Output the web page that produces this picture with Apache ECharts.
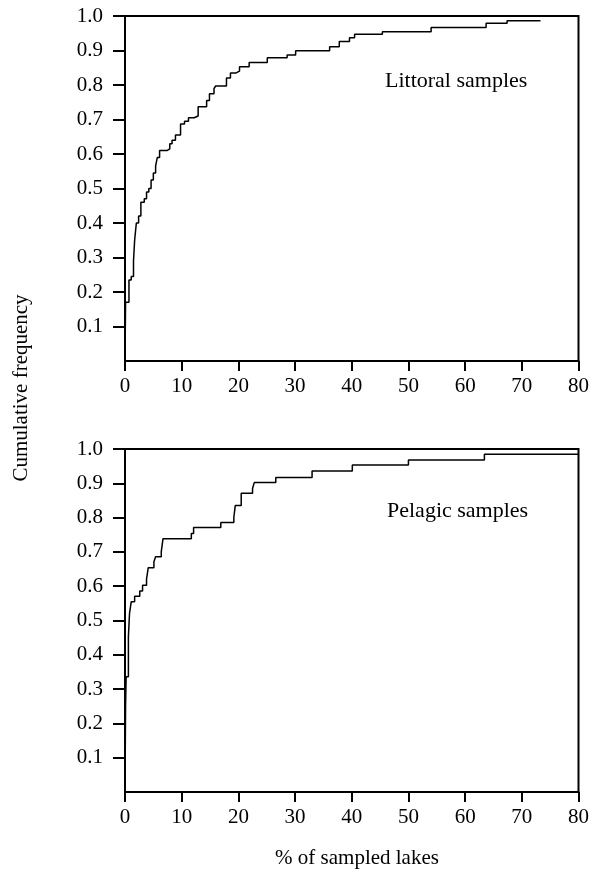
<!DOCTYPE html>
<html>
<head>
<meta charset="utf-8">
<script src="https://cdn.jsdelivr.net/npm/echarts@6/dist/echarts.min.js"></script>
<style>
html,body{margin:0;padding:0;background:#fff;}
#c{width:592px;height:875px;}
</style>
</head>
<body>
<div id="c"></div>
<script>
// Littoral samples: x (% of sampled lakes) where cumulative frequency steps to y
var littoralX = [0, 0.1, 0.7, 1.1, 1.5, 1.7, 2.0, 2.4, 2.8, 3.4, 3.8, 4.2, 4.6, 5.0, 5.4, 5.7, 6.1, 7.4, 7.9, 8.3, 8.9, 9.8, 10.5, 11.2, 12.2, 12.9, 14.4, 14.9, 15.7, 16.0, 17.9, 18.6, 19.6, 20.2, 21.9, 25.1, 28.6, 30.1, 36.1, 37.8, 39.6, 40.5, 45.4, 54.0, 63.7, 67.4, 73.3];
var littoralY = [0, 0.17, 0.235, 0.245, 0.29, 0.35, 0.40, 0.42, 0.46, 0.47, 0.49, 0.50, 0.525, 0.545, 0.565, 0.59, 0.61, 0.615, 0.63, 0.64, 0.655, 0.687, 0.695, 0.705, 0.71, 0.737, 0.755, 0.775, 0.79, 0.797, 0.82, 0.835, 0.84, 0.853, 0.865, 0.879, 0.887, 0.899, 0.911, 0.926, 0.937, 0.947, 0.954, 0.967, 0.979, 0.986, 0.986];
// Pelagic samples
var pelagicX = [0, 0.1, 0.2, 0.6, 0.8, 1.1, 1.7, 2.6, 3.1, 3.8, 4.1, 5.1, 5.4, 6.4, 6.7, 11.7, 12.1, 16.9, 19.2, 19.45, 20.5, 22.5, 22.8, 26.6, 33.0, 40.1, 50.0, 63.4, 80];
var pelagicY = [0, 0.25, 0.336, 0.453, 0.521, 0.555, 0.571, 0.586, 0.603, 0.621, 0.654, 0.671, 0.686, 0.701, 0.738, 0.754, 0.771, 0.786, 0.801, 0.835, 0.871, 0.885, 0.902, 0.917, 0.936, 0.953, 0.968, 0.985, 0.985];
var yTickValues = [0.1, 0.2, 0.3, 0.4, 0.5, 0.6, 0.7, 0.8, 0.9, 1.0];
var panelLabels = ['Littoral samples', 'Pelagic samples'];
var yTitle = 'Cumulative frequency';
var xTitle = '% of sampled lakes';

function zip(xs, ys){ return xs.map(function(x,i){ return [x, ys[i]]; }); }

var FONT = "'Liberation Serif','DejaVu Serif',serif";
var chart = echarts.init(document.getElementById('c'), null, {renderer:'canvas'});

function xAx(gi){
  return {
    gridIndex: gi, type: 'value', min: 0, max: 80, interval: 10,
    axisLine: {show: true, onZero: false, lineStyle: {color: '#000', width: 2}},
    axisTick: {show: true, inside: false, length: 10, lineStyle: {color: '#000', width: 2}},
    axisLabel: {color: '#000', fontSize: 21, fontFamily: FONT, margin: 15},
    splitLine: {show: false}
  };
}
function yAx(gi){
  return {
    gridIndex: gi, type: 'value', min: 0, max: 1, interval: 0.1,
    axisLine: {show: true, onZero: false, lineStyle: {color: '#000', width: 2}},
    axisTick: {show: true, inside: false, length: 12, customValues: yTickValues, lineStyle: {color: '#000', width: 2}},
    axisLabel: {color: '#000', fontSize: 21, fontFamily: FONT, margin: 22, customValues: yTickValues,
      formatter: function(v){ return v.toFixed(1); }},
    splitLine: {show: false}
  };
}

var option = {
  backgroundColor: '#fff',
  animation: false,
  grid: [
    {left: 125, top: 16, width: 460, height: 345, show: true, borderColor: '#000', borderWidth: 2, backgroundColor: 'transparent'},
    {left: 125, top: 449, width: 460, height: 343, show: true, borderColor: '#000', borderWidth: 2, backgroundColor: 'transparent'}
  ],
  xAxis: [xAx(0), xAx(1)],
  yAxis: [yAx(0), yAx(1)],
  series: [
    {type: 'line', xAxisIndex: 0, yAxisIndex: 0, step: 'end', showSymbol: false, symbol: 'none',
     lineStyle: {color: '#000', width: 1.5}, data: zip(littoralX, littoralY)},
    {type: 'line', xAxisIndex: 1, yAxisIndex: 1, step: 'end', showSymbol: false, symbol: 'none',
     lineStyle: {color: '#000', width: 1.5}, data: zip(pelagicX, pelagicY)}
  ],
  graphic: [
    {type: 'text', left: 385, top: 70, style: {text: panelLabels[0], font: '22px ' + FONT, fill: '#000'}},
    {type: 'text', left: 387, top: 500, style: {text: panelLabels[1], font: '22px ' + FONT, fill: '#000'}},
    {type: 'text', x: 21, y: 388, rotation: Math.PI/2,
     style: {text: yTitle, font: '21px ' + FONT, fill: '#000', align: 'center', verticalAlign: 'middle'}},
    {type: 'text', x: 357, y: 858,
     style: {text: xTitle, font: '21px ' + FONT, fill: '#000', align: 'center', verticalAlign: 'middle'}}
  ]
};
chart.setOption(option);
</script>
</body>
</html>
